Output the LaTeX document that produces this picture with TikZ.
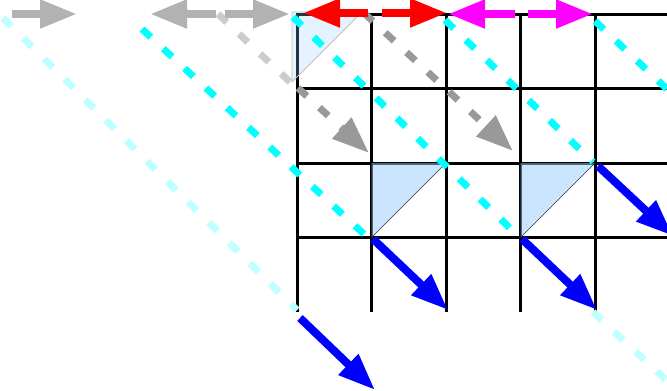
\documentclass[tikz,border=0pt]{standalone}
\usepackage{tikz}
\usepackage{xcolor}
\usetikzlibrary{arrows.meta}
\definecolor{flow}{RGB}{0,255,255}
\definecolor{oldflow}{RGB}{190,255,255}
\definecolor{cellfill}{RGB}{153,204,255}
\definecolor{push}{RGB}{0,0,255}
\definecolor{pair1}{RGB}{255,0,0}
\definecolor{pair2}{RGB}{255,0,255}

\begin{document}
\begin{tikzpicture}[x=1pt,y=-1pt,
    fat/.style={line width=8pt,-{Triangle[length=37pt,width=27pt]}},
    dashline/.style={line width=7pt,dash pattern=on 12pt off 17pt}]
    \useasboundingbox (0,0) rectangle (667,391);
    \clip (0,0) rectangle (667,391);
    \foreach \x in {297,371.5,446,520.5,595}
      \draw[line width=3pt] (\x,12.5) -- (\x,312);
    \foreach \y in {14,88.5,163,237.5}
      \draw[line width=3pt] (297,\y) -- (680,\y);
    \foreach \x in {371.5,520.5}{
      \fill[cellfill,fill opacity=0.5] (\x,163) -- (\x+74.5,163) -- (\x,237.5) -- cycle;
      \draw[black!80,line width=0.6pt] (\x,237.5) -- (\x+74.5,163);
    }
    \filldraw[fill=cellfill,fill opacity=0.25,draw=black!25,line width=0.8pt]
      (292,12) -- (362,12) -- (292,82) -- cycle;
    \foreach \a/\b/\c/\d/\col in {
      3/18/297/310/oldflow,
      593/312/680/393/oldflow,
      142/29/366/236/flow,
      293/17/518/236/flow,
      445/20/593/162/flow,
      595/21/685/106/flow,
      218/14/290/82/black!20}{
      \draw[dashline,\col] (\a,\b) -- (\c,\d);
    }
    \foreach \a/\b/\c/\d in {298/88/369/153, 364/13/513/151}
      \draw[fat,dashline,black!40] (\a,\b) -- (\c,\d);
    \foreach \a/\b/\c/\d/\col in {
      12/14/77/14/black!30,
      216/14/150/14/black!30,
      225/14/290/14/black!30,
      368/13/303/13/pair1,
      382/13/447/13/pair1,
      515/14/448/14/pair2,
      528/14/593/14/pair2,
      373/239/448/310/push,
      522/239/597/310/push,
      598/166/673/236/push,
      300/318/375/390/push}{
      \draw[fat,\col] (\a,\b) -- (\c,\d);
    }
  \end{tikzpicture}
\end{document}
